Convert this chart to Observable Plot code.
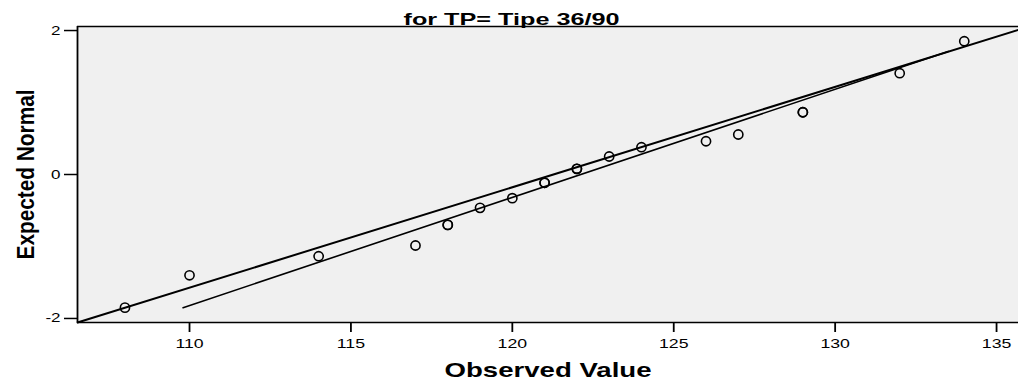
<!DOCTYPE html>
<html><head><meta charset="utf-8">
<script src="https://cdn.jsdelivr.net/npm/d3@7"></script>
<script src="https://cdn.jsdelivr.net/npm/@observablehq/plot@0.6"></script>
<style>body{margin:0;background:#fff;}</style>
</head><body><div id="chart"></div>
<script>
// Observed values (ties listed twice) and their expected normal scores
const observed = [108,110,114,117,118,118,119,120,121,121,122,122,123,124,126,127,129,129,132,134];
const expected = [-1.85,-1.40,-1.135,-0.986,-0.70,-0.70,-0.463,-0.329,-0.115,-0.115,0.079,0.079,0.25,0.379,0.462,0.556,0.865,0.865,1.407,1.851];
// Reference line and second fitted line (endpoints)
const refLineX = [106.53, 135.68];
const refLineY = [-2.056, 2.01];
const fitLineX = [109.8, 133.5];
const fitLineY = [-1.85, 1.71];
// Axes
const xTicks = [110,115,120,125,130,135];
const yTicks = [-2,0,2];
const yTickLabels = ["-2","0","2"];
const xDomain = [106.53, 135.68];
const yDomain = [-2.056, 2.056];
const titleText = "for TP= Tipe 36/90";
const xLabel = "Observed Value";
const yLabel = "Expected Normal";

const points = observed.map((v,i)=>({x:v, y:expected[i]}));
const refLine = refLineX.map((v,i)=>({x:v, y:refLineY[i]}));
const fitLine = fitLineX.map((v,i)=>({x:v, y:fitLineY[i]}));

const plot = Plot.plot({
  width: 1018, height: 380,
  marginLeft: 77, marginRight: 0, marginTop: 26, marginBottom: 58,
  style: {fontFamily: "'Liberation Sans', Arial, sans-serif", background: "#fff", color: "#000", overflow: "visible"},
  x: {domain: xDomain},
  y: {domain: yDomain},
  marks: [
    Plot.frame({fill: "#f0f0f0", stroke: "none"}),
    Plot.line(refLine, {x: "x", y: "y", stroke: "#000", strokeWidth: 2}),
    Plot.line(fitLine, {x: "x", y: "y", stroke: "#000", strokeWidth: 1.6}),
    Plot.dot(points, {x: "x", y: "y", r: 4.6, stroke: "#000", strokeWidth: 1.6, fill: "none"}),
    Plot.ruleX([xDomain[0]], {stroke: "#000", strokeWidth: 1.8}),
    Plot.ruleY([yDomain[0], yDomain[1]], {stroke: "#000", strokeWidth: 1.6}),
    Plot.axisX({ticks: xTicks, tickSize: 10, tickPadding: 6, fontSize: 13, label: null, strokeWidth: 1.8}),
    Plot.axisY({ticks: yTicks, tickFormat: d => yTickLabels[yTicks.indexOf(d)], tickSize: 13, tickPadding: 4, fontSize: 12.5, label: null, strokeWidth: 1.5}),
    Plot.text([titleText], {frameAnchor: "top", dx: -36.5, dy: -2, lineAnchor: "bottom", fontSize: 17, fontWeight: "bold"}),
    Plot.text([xLabel], {frameAnchor: "bottom", dy: 54, lineAnchor: "bottom", fontSize: 21, fontWeight: "bold"}),
    Plot.text([yLabel], {frameAnchor: "left", textAnchor: "middle", dx: -44, rotate: -90, lineAnchor: "bottom", fontSize: 24, fontWeight: "bold"})
  ]
});
document.getElementById("chart").appendChild(plot);

// Horizontal stretch of the original picture's lettering
const targets = {[titleText]: 216, [xLabel]: 207, [yLabel]: 170};
d3.select(plot).selectAll("text").each(function() {
  const t = this.textContent;
  const len = this.getComputedTextLength();
  const target = targets[t] !== undefined ? targets[t] : len * 1.36;
  this.setAttribute("textLength", target);
  this.setAttribute("lengthAdjust", "spacingAndGlyphs");
});
</script>
</body></html>
